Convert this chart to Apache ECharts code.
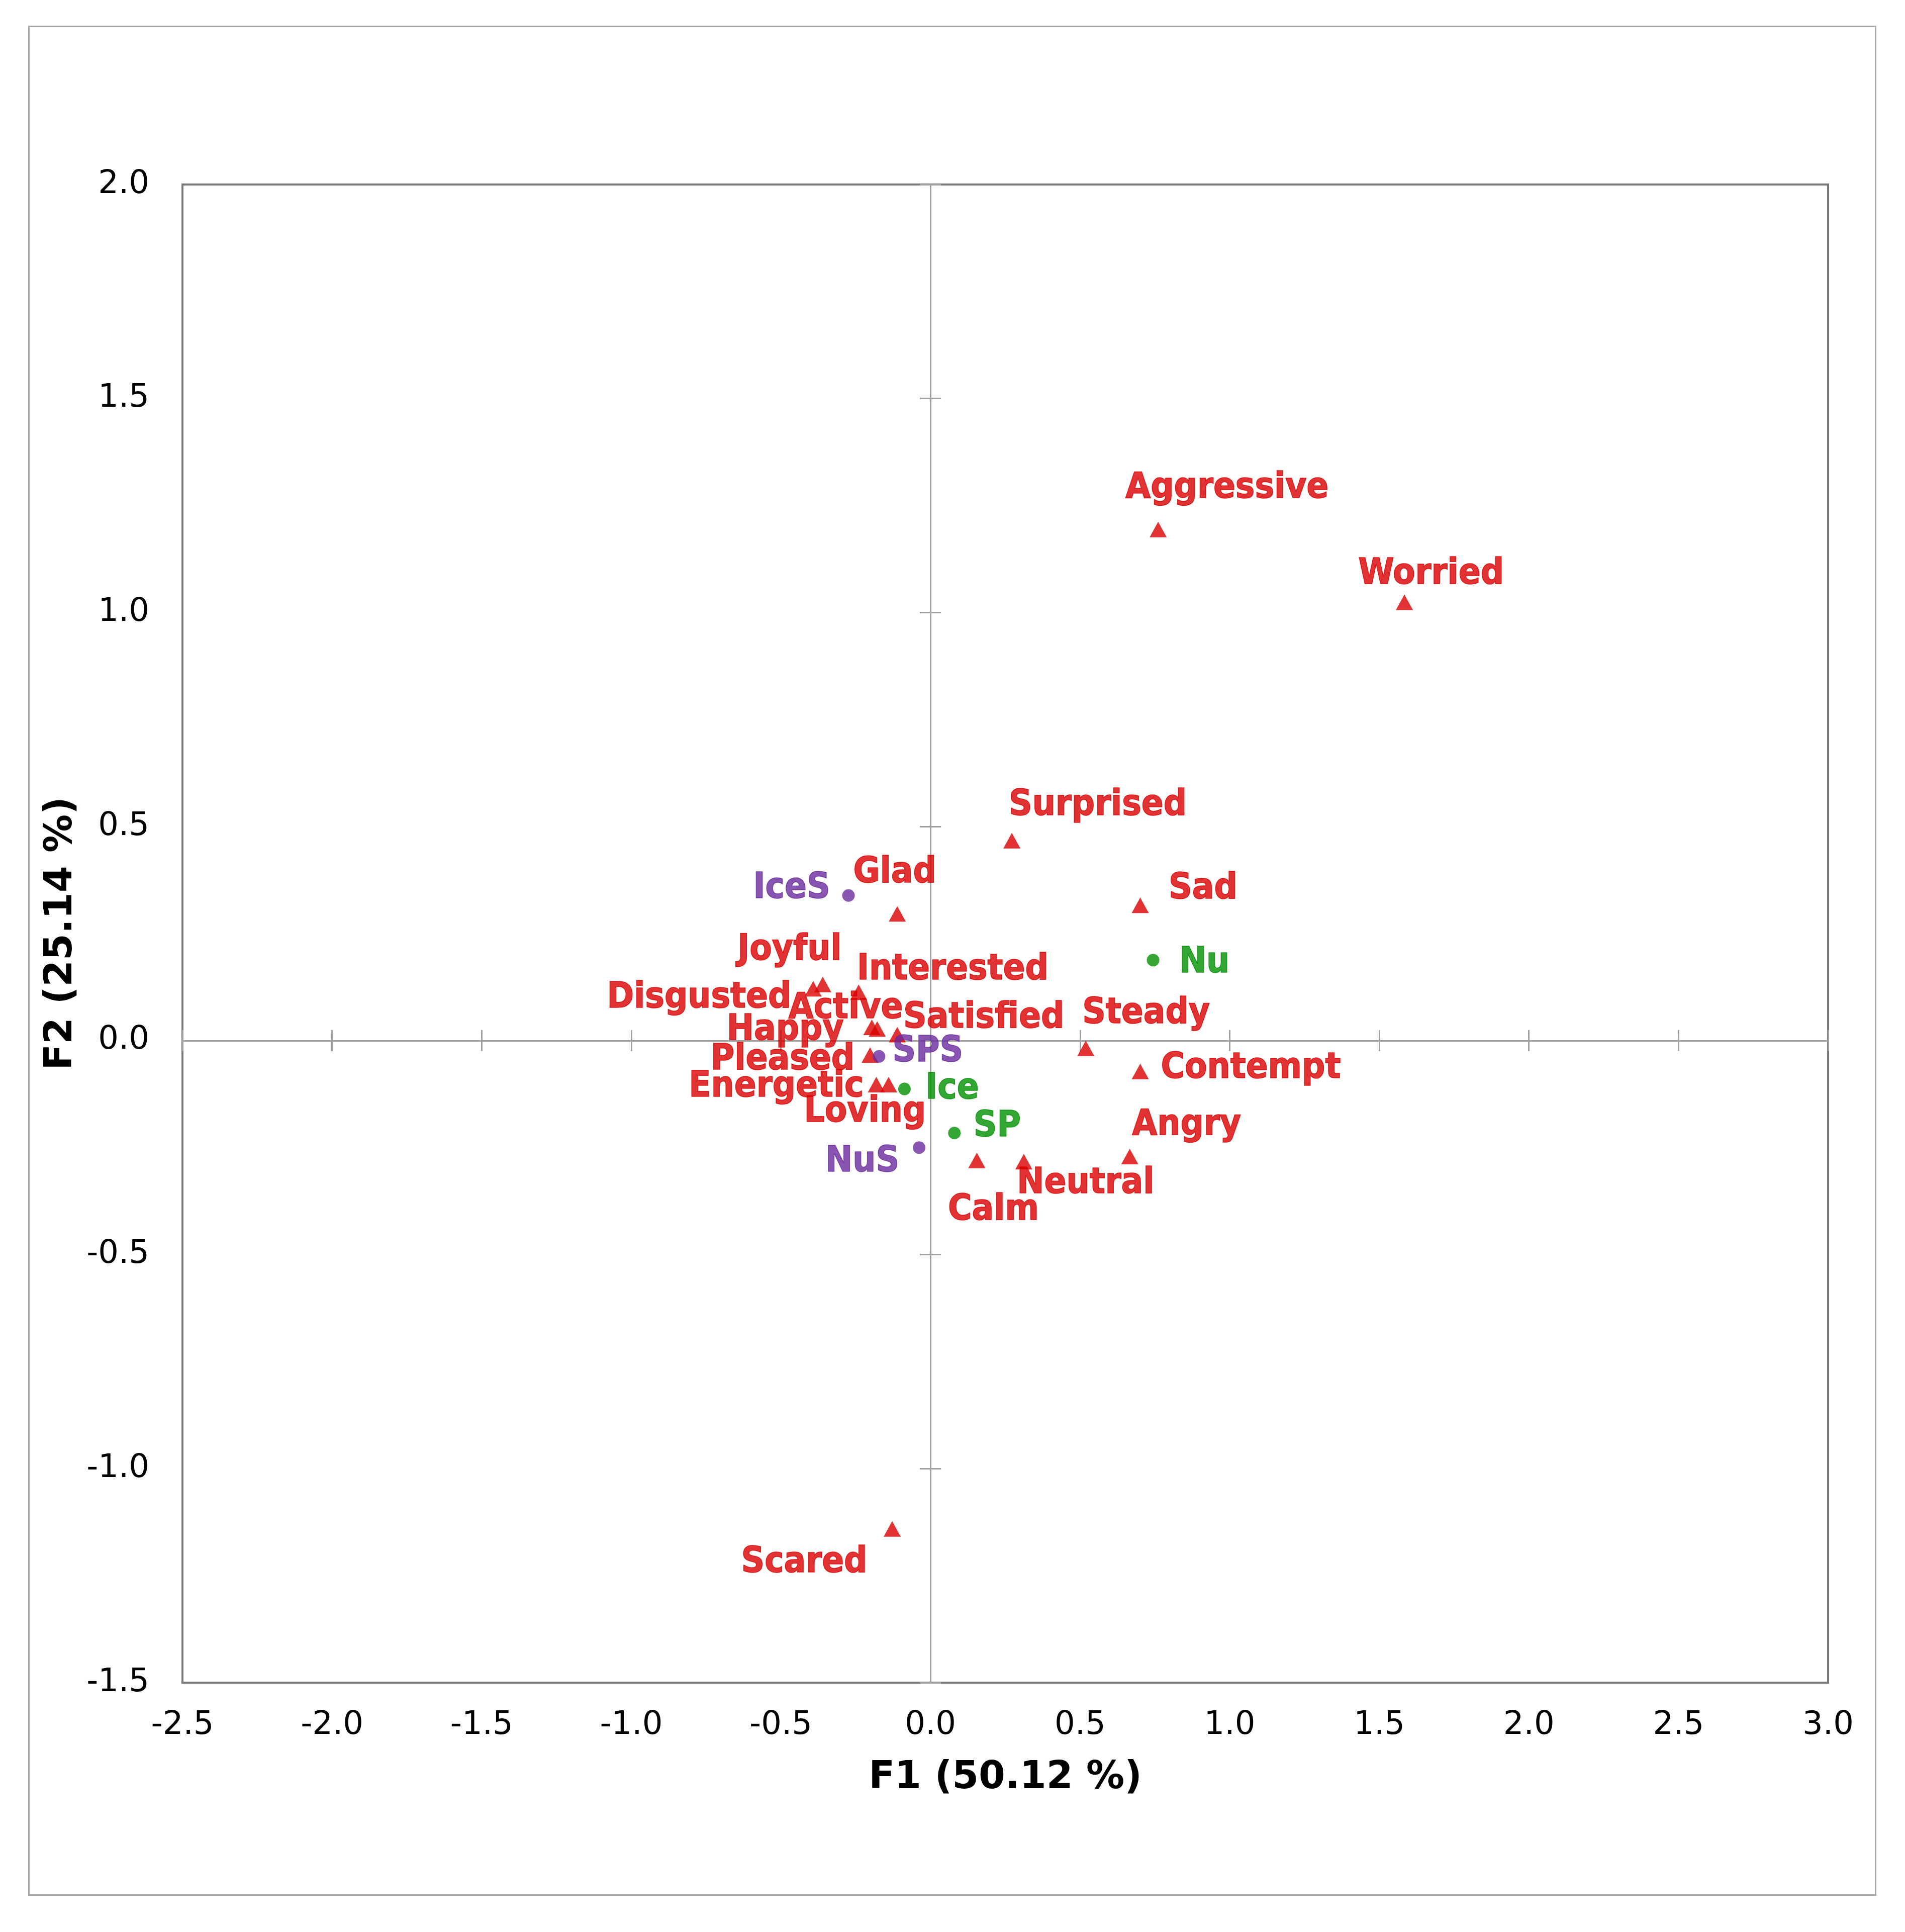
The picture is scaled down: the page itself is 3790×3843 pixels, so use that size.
<!DOCTYPE html>
<html><head><meta charset="utf-8">
<script src="https://cdn.jsdelivr.net/npm/echarts@6/dist/echarts.min.js"></script>
<style>html,body{margin:0;padding:0;background:#fff}#c{width:3790px;height:3843px}</style>
</head><body><div id="c"></div>
<script>
// ---- data ----
const emotionNames = ['Aggressive','Worried','Surprised','Sad','Glad','Joyful','Disgusted','Interested','Active','Happy','Satisfied','Steady','Pleased','Contempt','Energetic','Loving','Angry','Calm','Neutral','Scared'];
const emotionX = [0.761, 1.584, 0.272, 0.701, -0.111, -0.360, -0.392, -0.240, -0.196, -0.178, -0.111, 0.519, -0.202, 0.701, -0.181, -0.140, 0.666, 0.155, 0.312, -0.128];
const emotionY = [1.194, 1.024, 0.467, 0.316, 0.296, 0.131, 0.121, 0.113, 0.031, 0.027, 0.014, -0.018, -0.034, -0.072, -0.103, -0.103, -0.271, -0.280, -0.283, -1.141];
const productNames = ['Nu','Ice','SP'];
const productX = [0.744, -0.087, 0.080];
const productY = [0.188, -0.113, -0.216];
const sweetNames = ['IceS','SPS','NuS'];
const sweetX = [-0.274, -0.172, -0.038];
const sweetY = [0.339, -0.037, -0.250];
const xRange = [-2.5, 3.0], xStep = 0.5;
const yRange = [-1.5, 2.0], yStep = 0.5;
const xTitle = 'F1 (50.12 %)';
const yTitle = 'F2 (25.14 %)';

// ---- label placement (style, not data) ----
const labelOffset = {
  Aggressive:[137,-82], Worried:[53,-56], Surprised:[171,-70], Sad:[125,-33], Glad:[-5,-82],
  Joyful:[-66,-68], Disgusted:[-227,18], Interested:[187,-44], Active:[-52,-37], Happy:[-183,2],
  Satisfied:[172,-33], Steady:[120,-69], Pleased:[-174,9], Contempt:[220,-6], Energetic:[-199,5],
  Loving:[-47,55], Angry:[113,-62], Calm:[33,99], Neutral:[123,43], Scared:[-175,67],
  Nu:[102,6], Ice:[95,0], SP:[85,-12], IceS:[-113,-14], SPS:[97,-9], NuS:[-113,29]
};

const RED = '#d90000', GREEN = '#009000', PURPLE = '#6a2a9e';
const LABEL_FONT = '"DejaVu Sans Condensed", "DejaVu Sans", sans-serif';
const AXIS_FONT = '"DejaVu Sans", Verdana, sans-serif';
const ZERO = {color:'#a0a0a0', width:3};

function build(names, xs, ys) {
  return names.map((n, i) => ({name: n, value: [xs[i], ys[i]], label: {offset: labelOffset[n]}}));
}
function scatter(names, xs, ys, symbol, size, color) {
  return {
    type: 'scatter', xAxisIndex: 0, yAxisIndex: 0, symbol: symbol, symbolSize: size,
    itemStyle: {color: color}, emphasis: {disabled: true},
    label: {show: true, position: 'inside', formatter: '{b}', color: color,
            fontFamily: LABEL_FONT, fontWeight: 'bold', fontSize: 72,
            textBorderColor: color, textBorderWidth: 1.5},
    data: build(names, xs, ys)
  };
}
const fmt = v => v.toFixed(1);
const X = {type:'value', min:xRange[0], max:xRange[1], interval:xStep, splitLine:{show:false}};
const Y = {type:'value', min:yRange[0], max:yRange[1], interval:yStep, splitLine:{show:false}};

const chart = echarts.init(document.getElementById('c'), null, {renderer:'canvas'});
chart.setOption({
  animation: false,
  backgroundColor: '#fff',
  grid: {left:363, top:367, right:153, bottom:496, show:true, borderColor:'#7a7a7a', borderWidth:4,
         containLabel:false, outerBoundsMode:'none'},
  graphic: [{type:'rect', left:55, top:50, shape:{width:3674, height:3717},
             style:{fill:'none', stroke:'#a6a6a6', lineWidth:3}, silent:true}],
  xAxis: [
    Object.assign({}, X, {position:'bottom', axisLine:{show:false, onZero:false}, axisTick:{show:false},
      axisLabel:{fontFamily:AXIS_FONT, fontSize:64, color:'#000', margin:53, formatter:fmt},
      name:xTitle, nameLocation:'middle', nameGap:152,
      nameTextStyle:{fontFamily:AXIS_FONT, fontWeight:'bold', fontSize:76, color:'#000'}}),
    Object.assign({}, X, {position:'bottom', axisLine:{show:true, onZero:true, onZeroAxisIndex:0, lineStyle:ZERO},
      axisTick:{show:true, inside:true, length:21, lineStyle:ZERO}, axisLabel:{show:false}}),
    Object.assign({}, X, {position:'bottom', axisLine:{show:true, onZero:true, onZeroAxisIndex:0, lineStyle:ZERO},
      axisTick:{show:true, inside:false, length:21, lineStyle:ZERO}, axisLabel:{show:false}})
  ],
  yAxis: [
    Object.assign({}, Y, {position:'left', axisLine:{show:false, onZero:false}, axisTick:{show:false},
      axisLabel:{fontFamily:AXIS_FONT, fontSize:64, color:'#000', margin:66, formatter:fmt},
      name:yTitle, nameLocation:'middle', nameGap:203,
      nameTextStyle:{fontFamily:AXIS_FONT, fontWeight:'bold', fontSize:76, color:'#000'}}),
    Object.assign({}, Y, {position:'left', axisLine:{show:true, onZero:true, onZeroAxisIndex:0, lineStyle:ZERO},
      axisTick:{show:true, inside:true, length:21, lineStyle:ZERO}, axisLabel:{show:false}}),
    Object.assign({}, Y, {position:'left', axisLine:{show:true, onZero:true, onZeroAxisIndex:0, lineStyle:ZERO},
      axisTick:{show:true, inside:false, length:21, lineStyle:ZERO}, axisLabel:{show:false}})
  ],
  series: [
    scatter(emotionNames, emotionX, emotionY, 'triangle', [34, 31], RED),
    scatter(productNames, productX, productY, 'circle', 25, GREEN),
    scatter(sweetNames, sweetX, sweetY, 'circle', 25, PURPLE)
  ]
});
</script></body></html>
